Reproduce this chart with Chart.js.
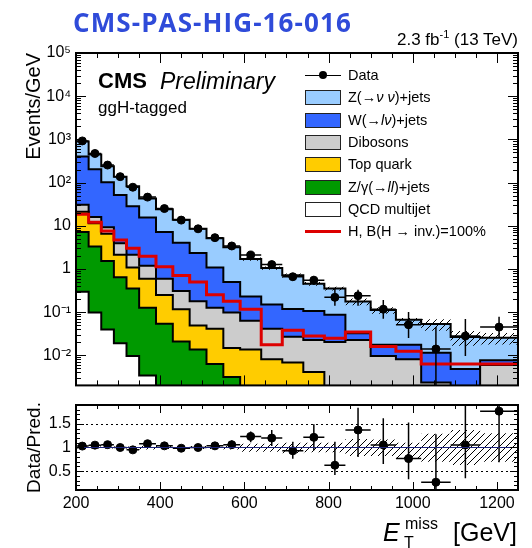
<!DOCTYPE html>
<html>
<head>
<meta charset="utf-8">
<script src="https://cdn.jsdelivr.net/npm/chart.js@4.4.1/dist/chart.umd.min.js"></script>
<style>
  body { margin: 0; width: 532px; height: 548px; position: relative; background: #fff; overflow: hidden;
         font-family: "Liberation Sans", Arial, sans-serif; color: #000; }
  canvas { position: absolute; left: 0; }
  #main { top: 0; }
  #ratio { top: 400px; }
  .t { position: absolute; white-space: nowrap; line-height: 1; }
  #pas { left: 73px; top: 4px; font: bold 26px "Open Sans", sans-serif; color: #2f4bd9; letter-spacing: 1.1px; }
  #lumi { right: 14px; top: 29px; font-size: 17px; }
  #lumi sup { font-size: 11px; vertical-align: 7px; }
  #cms { left: 98px; top: 70px; font-size: 22px; font-weight: bold; }
  #prelim { left: 160px; top: 70px; font-size: 23px; font-style: italic; }
  #tag { left: 98px; top: 99px; font-size: 17px; }
  .lg { position: absolute; left: 305px; height: 14px; }
  .lg .box { position: absolute; left: 0; top: 0; width: 34px; height: 13px; border: 1px solid #222; }
  .lg .txt { position: absolute; left: 43px; top: 0; font-size: 14.5px; line-height: 14px; white-space: nowrap; }
</style>
</head>
<body>
<canvas id="main" width="532" height="400"></canvas>
<canvas id="ratio" width="532" height="148"></canvas>

<div class="t" id="pas">CMS-PAS-HIG-16-016</div>
<div class="t" id="lumi">2.3 fb<sup>-1</sup> (13 TeV)</div>
<div class="t" id="cms">CMS</div>
<div class="t" id="prelim">Preliminary</div>
<div class="t" id="tag">ggH-tagged</div>
<div id="legend"></div>

<div class="t" style="left:383px; top:520px; font-size:25px;"><i>E</i></div>
<div class="t" style="left:405px; top:516px; font-size:16px;">miss</div>
<div class="t" style="left:404px; top:535px; font-size:16px;">T</div>
<div class="t" style="left:453px; top:520px; font-size:25px;">[GeV]</div>

<script>
// binning in MET (GeV)
const binEdges = [200, 230, 260, 290, 320, 350, 390, 430, 470, 510, 550, 590, 640, 690, 740, 790, 840, 900, 960, 1020, 1090, 1160, 1250];
const xTickLabels = [200, 400, 600, 800, 1000, 1200];
const yDecades = [1e-2, 1e-1, 1, 10, 1e2, 1e3, 1e4, 1e5];
const ratioTicks = [0.5, 1, 1.5];

// events / GeV, per bin
const dataVals = [920, 471, 254, 137, 78, 46, 25, 13.5, 8.5, 5.3, 3.4, 2.1, 1.26, 0.66, 0.55, 0.22, 0.24, 0.117, 0.051, 0.014, 0.028, 0.045];
const dataLow  = [890, 455, 243, 129, 72, 42, 22.5, 12, 7.4, 4.5, 2.8, 1.75, 1.0, 0.54, 0.43, 0.14, 0.14, 0.07, 0.025, 0.001, 0.0096, 0.025];
const dataHigh = [950, 487, 266, 145, 84, 50, 27.5, 15, 9.6, 6.1, 4.0, 2.5, 1.55, 0.8, 0.68, 0.35, 0.33, 0.19, 0.1, 0.045, 0.069, 0.078];

const qcd      = [0.298, 0.0975, 0.0394, 0.0191, 0.0096, 0.00343, 0, 0, 0, 0, 0, 0, 0, 0, 0, 0, 0, 0, 0, 0, 0, 0];
const zll      = [6.86, 3.2, 1.48, 0.627, 0.343, 0.123, 0.0537, 0.0208, 0.0136, 0.00626, 0.00315, 0, 0, 0, 0, 0, 0, 0, 0, 0, 0, 0];
const topQuark = [13.9, 8.1, 5.04, 1.49, 0.727, 0.465, 0.197, 0.095, 0.0354, 0.0351, 0.0117, 0.0136, 0.0081, 0.0068, 0.0041, 0, 0, 0, 0, 0, 0, 0];
const diboson  = [9.7, 4.6, 2.69, 1.78, 1.06, 0.589, 0.34, 0.193, 0.129, 0.0846, 0.0827, 0.0499, 0.0333, 0.0201, 0.0186, 0.0204, 0.0227, 0.0096, 0.0081, 0.00235, 0.0015, 0.00594];
const wlnu     = [373, 188, 92.8, 47.5, 26.1, 14.3, 6.57, 3.75, 2.16, 0.954, 0.4, 0.168, 0.109, 0.091, 0.083, 0.066, 0.0098, 0.0079, 0.0094, 0.0091, 0.0033, 0.00175];
const znunu    = [489, 245, 138, 85.6, 53.8, 27.1, 17.0, 9.64, 6.16, 4.04, 2.7, 1.47, 0.9, 0.592, 0.347, 0.266, 0.143, 0.094, 0.049, 0.0416, 0.0217, 0.0177];
const signal   = [18.4, 12.0, 7.53, 4.65, 3.03, 1.97, 1.12, 0.705, 0.499, 0.251, 0.178, 0.116, 0.0175, 0.038, 0.0279, 0.0248, 0.0348, 0.0161, 0.0124, 0.00626, 0.00626, 0.00626];

// data / prediction
const ratio     = [1.03, 1.05, 1.06, 1.0, 0.95, 1.08, 1.035, 0.985, 1.0, 1.035, 1.06, 1.235, 1.2, 0.93, 1.215, 0.625, 1.37, 1.055, 0.765, 0.265, 1.055, 1.77];
const ratioLow  = [1.0, 1.02, 1.03, 0.96, 0.9, 1.04, 0.99, 0.93, 0.94, 0.96, 0.97, 1.11, 1.03, 0.76, 0.94, 0.42, 0.8, 0.65, 0.33, 0.1, 0.35, 0.69];
const ratioHigh = [1.06, 1.08, 1.09, 1.04, 1.0, 1.13, 1.08, 1.04, 1.06, 1.11, 1.15, 1.34, 1.37, 1.12, 1.49, 1.12, 1.84, 1.62, 1.53, 1.28, 2.0, 2.5];
const uncLow    = [0.98, 0.98, 0.98, 0.98, 0.98, 0.96, 0.97, 0.97, 0.97, 0.97, 0.96, 0.91, 0.91, 0.88, 0.9, 0.9, 0.82, 0.82, 0.78, 0.7, 0.63, 0.7];
const uncHigh   = [1.02, 1.02, 1.02, 1.02, 1.02, 1.04, 1.03, 1.03, 1.03, 1.03, 1.04, 1.08, 1.08, 1.1, 1.1, 1.1, 1.18, 1.17, 1.1, 1.29, 1.37, 1.3];

const nBins = binEdges.length - 1;
const yMin = 0.00201;
const centers = binEdges.slice(0, -1).map((e, i) => (e + binEdges[i + 1]) / 2);

// histogram as step line: one point per left edge + closing point
function stepPoints(vals) {
  const pts = vals.map((v, i) => ({x: binEdges[i], y: v}));
  pts.push({x: binEdges[nBins], y: vals[nBins - 1]});
  return pts;
}

function hatch(ctx) {
  const c = document.createElement('canvas');
  c.width = 7; c.height = 7;
  const g = c.getContext('2d');
  g.strokeStyle = '#000';
  g.lineWidth = 1;
  g.beginPath();
  g.moveTo(0, 7); g.lineTo(7, 0);
  g.moveTo(-1, 1); g.lineTo(1, -1);
  g.moveTo(6, 8); g.lineTo(8, 6);
  g.stroke();
  return ctx.createPattern(c, 'repeat');
}

const sup = {'0': '⁰', '1': '¹', '2': '²', '3': '³', '4': '⁴', '5': '⁵', '6': '⁶', '7': '⁷', '8': '⁸', '9': '⁹', '-': '⁻'};
function decadeLabel(v) {
  const e = Math.round(Math.log10(v));
  if (e === 0) return '1';
  if (e === 1) return '10';
  return '10' + String(e).split('').map(c => sup[c]).join('');
}

Chart.defaults.font.family = "'Liberation Sans', Arial, sans-serif";
Chart.defaults.color = '#000';

// frame with inward ticks, ROOT style
const frameTicks = {
  id: 'frameTicks',
  afterDraw(chart, args, o) {
    const {ctx, chartArea: a, scales} = chart;
    ctx.save();
    ctx.strokeStyle = '#000';
    ctx.lineWidth = 1;
    ctx.beginPath();
    for (let v = 200; v <= 1250; v += 50) {
      const px = Math.round(scales.x.getPixelForValue(v)) + 0.5;
      const len = v % 200 === 0 ? o.xMaj : o.xMin;
      ctx.moveTo(px, a.bottom); ctx.lineTo(px, a.bottom - len);
      ctx.moveTo(px, a.top); ctx.lineTo(px, a.top + len);
    }
    o.yTicks.forEach(([v, major]) => {
      const py = Math.round(scales.y.getPixelForValue(v)) + 0.5;
      if (py < a.top || py > a.bottom) return;
      const len = major ? o.yMaj : o.yMin;
      ctx.moveTo(a.left, py); ctx.lineTo(a.left + len, py);
      ctx.moveTo(a.right, py); ctx.lineTo(a.right - len, py);
    });
    ctx.stroke();
    ctx.lineWidth = 2;
    ctx.strokeRect(a.left, a.top, a.right - a.left, a.bottom - a.top);
    ctx.restore();
  }
};

// data error bars (vertical from arrays, horizontal = bin width)
const errBars = {
  id: 'errBars',
  afterDatasetsDraw(chart, args, o) {
    const {ctx, chartArea: a, scales} = chart;
    ctx.save();
    ctx.beginPath();
    ctx.rect(a.left, a.top, a.right - a.left, a.bottom - a.top);
    ctx.clip();
    ctx.strokeStyle = '#000';
    ctx.lineWidth = 1.5;
    ctx.beginPath();
    o.vals.forEach((v, i) => {
      const px = scales.x.getPixelForValue(centers[i]);
      const py = scales.y.getPixelForValue(v);
      ctx.moveTo(scales.x.getPixelForValue(binEdges[i]), py);
      ctx.lineTo(scales.x.getPixelForValue(binEdges[i + 1]), py);
      ctx.moveTo(px, scales.y.getPixelForValue(o.lo[i]));
      ctx.lineTo(px, scales.y.getPixelForValue(o.hi[i]));
    });
    ctx.stroke();
    ctx.restore();
  }
};

const bkg = [
  {label: 'QCD multijet', legend: 'QCD multijet', vals: qcd, color: '#ffffff'},
  {label: 'Z/γ(→ll)+jets', legend: 'Z/γ(→<i>ll</i>)+jets', vals: zll, color: '#009900'},
  {label: 'Top quark', legend: 'Top quark', vals: topQuark, color: '#ffcc00'},
  {label: 'Dibosons', legend: 'Dibosons', vals: diboson, color: '#cccccc'},
  {label: 'W(→lν)+jets', legend: 'W(→<i>l</i><i>ν</i>)+jets', vals: wlnu, color: '#3366ff'},
  {label: 'Z(→νν)+jets', legend: 'Z(→<i>ν</i> <i>ν</i>)+jets', vals: znunu, color: '#99ccff'}
];

// stack by hand: cumulative tops, empty bins pushed just under the axis
let running = new Array(nBins).fill(0);
const stackTops = bkg.map(s => {
  running = running.map((r, i) => r + s.vals[i]);
  return running.map(v => Math.max(v, yMin / 2));
});
const total = running;

const mainCtx = document.getElementById('main').getContext('2d');
const pattern = hatch(mainCtx);

const logTicks = [];
for (let d = -3; d <= 5; d++) {
  for (let k = 1; k <= 9; k++) {
    if (d === 5 && k > 1) break;
    logTicks.push([k * Math.pow(10, d), k === 1]);
  }
}

const mainSets = bkg.map((s, i) => ({
  type: 'line', label: s.label, data: stepPoints(stackTops[i]), stepped: true,
  fill: i === 0 ? 'start' : '-1', backgroundColor: s.color,
  borderColor: '#000', borderWidth: 2, pointRadius: 0, order: 10
}));
mainSets.push({
  type: 'line', label: 'unc low', data: stepPoints(total.map((t, i) => t * uncLow[i])), stepped: true,
  fill: false, borderWidth: 0, pointRadius: 0, order: 5
});
mainSets.push({
  type: 'line', label: 'unc high', data: stepPoints(total.map((t, i) => t * uncHigh[i])), stepped: true,
  fill: '-1', backgroundColor: pattern, borderWidth: 0, pointRadius: 0, order: 5
});
mainSets.push({
  type: 'line', label: 'H, B(H → inv.)=100%', data: stepPoints(signal), stepped: true,
  fill: false, borderColor: '#dd0000', borderWidth: 3, pointRadius: 0, order: 2
});
mainSets.push({
  type: 'line', label: 'Data', data: dataVals.map((v, i) => ({x: centers[i], y: v})), showLine: false,
  pointRadius: 4, pointBackgroundColor: '#000', pointBorderColor: '#000', order: 1
});

new Chart(mainCtx, {
  type: 'line',
  data: {datasets: mainSets},
  options: {
    responsive: false, animation: false, events: [],
    layout: {padding: {top: 53, right: 14, bottom: 3, left: 0}},
    plugins: {
      legend: {display: false}, tooltip: {enabled: false},
      frameTicks: {xMaj: 10, xMin: 5, yMaj: 10, yMin: 5, yTicks: logTicks},
      errBars: {vals: dataVals, lo: dataLow, hi: dataHigh}
    },
    scales: {
      x: {type: 'linear', min: 200, max: 1250, display: false},
      y: {
        type: 'logarithmic', min: yMin, max: 1e5,
        afterBuildTicks: s => { s.ticks = yDecades.map(v => ({value: v})); },
        afterFit: s => { s.width = 76; },
        grid: {display: false, drawTicks: false}, border: {display: false},
        ticks: {callback: v => decadeLabel(v), font: {size: 16}, padding: 5, autoSkip: false},
        title: {display: true, text: 'Events/GeV', align: 'end', font: {size: 20}, padding: {top: 22}}
      }
    }
  },
  plugins: [frameTicks, errBars]
});

// ratio panel
const ratioCtx = document.getElementById('ratio').getContext('2d');
const ratioLines = {
  id: 'ratioLines',
  beforeDatasetsDraw(chart) {
    const {ctx, chartArea: a, scales} = chart;
    ctx.save();
    ctx.lineWidth = 1;
    ctx.strokeStyle = '#000';
    ctx.setLineDash([2, 3]);
    [0.5, 1.5].forEach(v => {
      const py = Math.round(scales.y.getPixelForValue(v)) + 0.5;
      ctx.beginPath(); ctx.moveTo(a.left, py); ctx.lineTo(a.right, py); ctx.stroke();
    });
    ctx.restore();
  },
  afterDatasetsDraw(chart) {
    const {ctx, chartArea: a, scales} = chart;
    const py = Math.round(scales.y.getPixelForValue(1)) + 0.5;
    ctx.save();
    ctx.lineWidth = 1;
    ctx.strokeStyle = '#1c237a';
    ctx.beginPath(); ctx.moveTo(a.left, py); ctx.lineTo(a.right, py); ctx.stroke();
    ctx.restore();
  }
};

const linTicks = [];
for (let k = 1; k <= 19; k++) linTicks.push([k / 10, k % 5 === 0]);

new Chart(ratioCtx, {
  type: 'line',
  data: {
    datasets: [
      {label: 'unc low', data: stepPoints(uncLow), stepped: true, fill: false, borderWidth: 0, pointRadius: 0, order: 5},
      {label: 'unc high', data: stepPoints(uncHigh), stepped: true, fill: '-1', backgroundColor: hatch(ratioCtx),
       borderWidth: 0, pointRadius: 0, order: 5},
      {label: 'Data/Pred.', data: ratio.map((v, i) => ({x: centers[i], y: v})), showLine: false,
       pointRadius: 4, pointBackgroundColor: '#000', pointBorderColor: '#000', order: 1}
    ]
  },
  options: {
    responsive: false, animation: false, events: [],
    layout: {padding: {top: 4, right: 14, bottom: 0, left: 0}},
    plugins: {
      legend: {display: false}, tooltip: {enabled: false},
      frameTicks: {xMaj: 8, xMin: 4, yMaj: 8, yMin: 4, yTicks: linTicks},
      errBars: {vals: ratio, lo: ratioLow, hi: ratioHigh}
    },
    scales: {
      x: {
        type: 'linear', min: 200, max: 1250,
        afterBuildTicks: s => { s.ticks = xTickLabels.map(v => ({value: v})); },
        afterFit: s => { s.height = 58; s.paddingLeft = 0; s.paddingRight = 0; },
        grid: {display: false, drawTicks: false}, border: {display: false},
        ticks: {font: {size: 16}, padding: 4, maxRotation: 0, autoSkip: false, callback: v => String(v)}
      },
      y: {
        min: 0.1, max: 1.9,
        afterBuildTicks: s => { s.ticks = ratioTicks.map(v => ({value: v})); },
        afterFit: s => { s.width = 76; s.paddingTop = 0; s.paddingBottom = 0; },
        grid: {display: false, drawTicks: false}, border: {display: false},
        ticks: {font: {size: 16, lineHeight: 1}, padding: 5, autoSkip: false, autoSkipPadding: 0, callback: v => String(v)},
        title: {display: true, text: 'Data/Pred.', align: 'center', font: {size: 19}, padding: {top: 23}}
      }
    }
  },
  plugins: [frameTicks, errBars, ratioLines]
});

// legend
const legendRows = [
  {kind: 'data', html: 'Data'},
  ...bkg.slice().reverse().map(s => ({kind: 'box', color: s.color, html: s.legend})),
  {kind: 'line', color: '#dd0000', html: 'H, B(H → inv.)=100%'}
];
const lg = document.getElementById('legend');
legendRows.forEach((r, i) => {
  const row = document.createElement('div');
  row.className = 'lg';
  row.style.top = (68 + i * 22.3) + 'px';
  let mark = '';
  if (r.kind === 'box') mark = '<div class="box" style="background:' + r.color + '"></div>';
  if (r.kind === 'line') mark = '<div style="position:absolute;left:0;top:5.5px;width:36px;height:3px;background:' + r.color + '"></div>';
  if (r.kind === 'data') mark = '<div style="position:absolute;left:0;top:6.5px;width:36px;height:1.5px;background:#000"></div>' +
    '<div style="position:absolute;left:14px;top:3px;width:8px;height:8px;border-radius:50%;background:#000"></div>';
  row.innerHTML = mark + '<div class="txt">' + r.html + '</div>';
  lg.appendChild(row);
});
</script>
</body>
</html>
